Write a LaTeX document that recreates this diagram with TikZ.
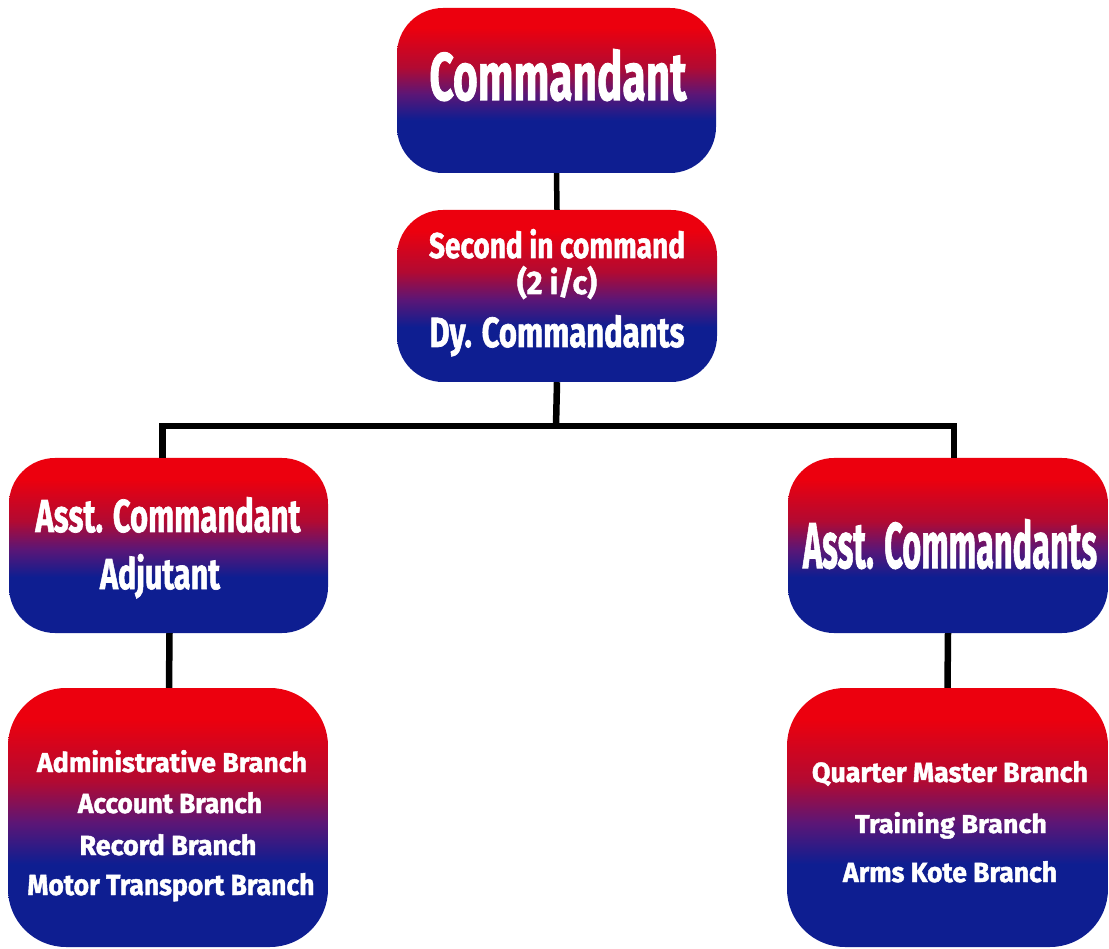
\documentclass[tikz,border=0pt]{standalone}
\usepackage{graphicx}
\usepackage{fontspec}
\setmainfont{Fira Sans}[BoldFeatures={FakeBold=1.6}]
\definecolor{bblue}{RGB}{14,30,145}
\definecolor{bpurp}{RGB}{92,22,118}
\definecolor{bdred}{RGB}{178,10,50}
\definecolor{bred}{RGB}{236,0,14}
\pgfdeclareverticalshading{rbshade}{100bp}{color(0bp)=(bblue); color(25bp)=(bblue); color(41bp)=(bblue); color(49bp)=(bpurp); color(57bp)=(bdred); color(69bp)=(bred); color(100bp)=(bred)}
\newcommand\fl[3]{\resizebox{#1pt}{#2pt}{\bfseries #3}}
\tikzset{
  box/.style={shade, shading=rbshade, rounded corners=46pt, inner sep=0pt, draw=none},
  txt/.style={text=white, inner sep=0pt, anchor=base},
  conn/.style={line width=6.5pt, black, line join=miter, line cap=butt}
}
\begin{document}
\begin{tikzpicture}[x=1pt,y=-1pt]
\useasboundingbox (0,0) rectangle (1109,949);
\fill[white] (0,0) rectangle (1109,949);
% boxes
\node[box, minimum width=319pt, minimum height=165pt] (cmd) at (556.5,90.5) {};
\node[box, minimum width=320pt, minimum height=172pt] (sec) at (557,296) {};
\node[box, minimum width=319pt, minimum height=175pt] (adj) at (168.5,545.5) {};
\node[box, minimum width=320pt, minimum height=175pt] (asc) at (948,545.5) {};
\node[box, minimum width=320pt, minimum height=259pt, rounded corners=58pt] (lb) at (168,817.5) {};
\node[box, minimum width=321pt, minimum height=259pt, rounded corners=58pt] (rb) at (947.5,817.5) {};
% connectors
\coordinate (bus) at (556,426);
\draw[conn, line width=5.5pt] (cmd.south) -- (sec.north);
\draw[conn] (sec.south) -- (bus);
\draw[conn] ([xshift=-6pt]adj.north) |- (bus) -| ([xshift=6pt]asc.north);
\draw[conn] ([xshift=1pt]adj.south) -- ([xshift=1pt]lb.north);
\draw[conn] (asc.south) -- (rb.north);
% texts
\node[txt] (t1) at (558,100) {\fl{257}{51}{Commandant}};
\node[txt] (t2) at (557,258) {\fl{256}{29}{Second in command}};
\node[txt] (t3) at (557,294) {\fl{80}{28}{(2 i/c)}};
\node[txt] (t4) at (557,347) {\fl{255}{32}{Dy. Commandants}};
\node[txt] (t5) at (168,532) {\fl{265}{35}{Asst. Commandant}};
\node[txt] (t6) at (160,589) {\fl{120}{35}{Adjutant}};
\node[txt] (t7) at (950,568) {\fl{294}{49}{Asst. Commandants}};
\node[txt] (t8) at (172,772) {\fl{270}{22}{Administrative Branch}};
\node[txt] (t9) at (170,813) {\fl{184}{21}{Account Branch}};
\node[txt] (t10) at (168,855) {\fl{177}{21}{Record Branch}};
\node[txt] (t11) at (171,895) {\fl{287}{22}{Motor Transport Branch}};
\node[txt] (t12) at (950,782) {\fl{276}{21}{Quarter Master Branch}};
\node[txt] (t13) at (951,833) {\fl{192}{21}{Training Branch}};
\node[txt] (t14) at (950,882) {\fl{214}{21}{Arms Kote Branch}};
\end{tikzpicture}
\end{document}
